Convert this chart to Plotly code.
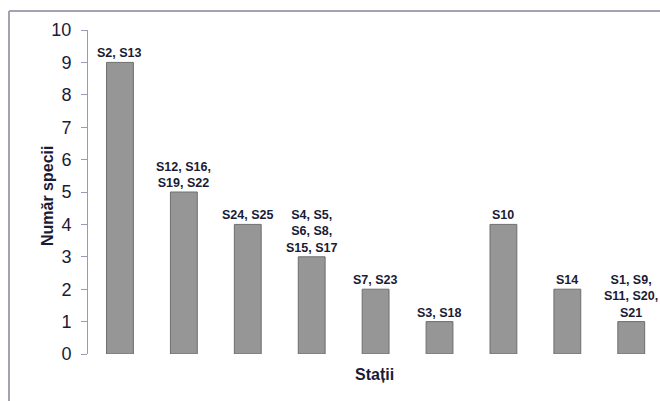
import plotly.graph_objects as go

categories = ["S2, S13", "S12, S16,<br>S19, S22", "S24, S25", "S4, S5,<br>S6, S8,<br>S15, S17",
              "S7, S23", "S3, S18", "S10", "S14", "S1, S9,<br>S11, S20,<br>S21"]
values = [9, 5, 4, 3, 2, 1, 4, 2, 1]
y_ticks = list(range(0, 11))

W, H = 660, 401
L, R, T, B = 88, 0, 30, 47
pw, ph = W - L - R, H - T - B

txt = "#1b1b35"
x = list(range(len(values)))

fig = go.Figure()
fig.add_trace(go.Bar(
    x=x, y=values,
    marker=dict(color="#969696", line=dict(color="#6e6e6e", width=1)),
    width=0.42,
    hoverinfo="skip",
))

for xi, v, c in zip(x, values, categories):
    fig.add_annotation(x=xi, y=v, text="<b>" + c + "</b>", showarrow=False,
                       xanchor="center", yanchor="bottom", yshift=0,
                       font=dict(family="Liberation Sans, Arial", size=12.5, color=txt))

def px_x(p):
    return (p - L) / pw

def px_y(p):
    return (H - B - p) / ph

border = "#a3a3b3"
fig.add_shape(type="line", xref="paper", yref="paper",
              x0=px_x(9), x1=px_x(662), y0=px_y(11), y1=px_y(11),
              line=dict(color=border, width=2))
fig.add_shape(type="line", xref="paper", yref="paper",
              x0=px_x(9), x1=px_x(9), y0=px_y(11), y1=px_y(403),
              line=dict(color=border, width=2))

fig.add_annotation(xref="paper", yref="paper", x=px_x(47), y=px_y(196),
                   xanchor="center", yanchor="middle",
                   text="<b>Număr specii</b>", textangle=-90, showarrow=False,
                   font=dict(family="Liberation Sans, Arial", size=16, color=txt))
fig.add_annotation(xref="paper", yref="paper", x=px_x(374), y=px_y(374),
                   xanchor="center", yanchor="middle",
                   text="<b>Stații</b>", showarrow=False,
                   font=dict(family="Liberation Sans, Arial", size=16, color=txt))

fig.update_layout(
    width=W, height=H,
    margin=dict(l=L, r=R, t=T, b=B),
    paper_bgcolor="white", plot_bgcolor="white",
    showlegend=False,
    xaxis=dict(range=[-0.5, 8.45], showticklabels=False, showgrid=False,
               zeroline=False, showline=False, ticks=""),
    yaxis=dict(range=[0, 10], tickvals=y_ticks, showgrid=False, zeroline=False,
               showline=True, linecolor="#9a9ab0", linewidth=1,
               ticks="outside", ticklen=6, tickcolor="#9a9ab0",
               ticklabelstandoff=6,
               tickfont=dict(family="Liberation Sans, Arial", size=18, color=txt)),
)

fig.write_html("out.html")
